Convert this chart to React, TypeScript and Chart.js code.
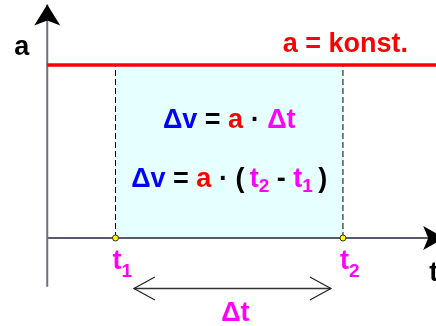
import React, { useEffect, useRef } from "react";
import { Chart, registerables } from "chart.js";

Chart.register(...registerables);

// ---- data (time units on x, acceleration units on y) ----
const timeMarks = [3, 13]; // t1, t2
const timeSubscripts = ["1", "2"];
const accelLevel = [4, 4]; // a = konst.
const accelSpan = [0, 17.1]; // extent of the red line in t
const xAxisSpan = [0, 17.45]; // t-axis from origin to arrow tip
const yAxisSpan = [-1.13, 5.4]; // a-axis from below origin to arrow tip
const deltaSpan = [3.81, 12.47]; // Δt double-arrow extent
const deltaLevel = [-1.168, -1.168];
const xRange = [-2.077, 17.09];
const yRange = [-2.035, 5.503];

const FONT = '"Liberation Sans", Arial, Helvetica, sans-serif';
const BLUE = "#0000ff";
const RED = "#ff0000";
const MAG = "#ff00ff";
const BLACK = "#000000";
const SIZE = 27;
const SUB = 19;

type Run = { t: string; c: string; sub?: boolean };

function drawRuns(
  ctx: CanvasRenderingContext2D,
  runs: Run[],
  x: number,
  baseline: number,
  subDy: number,
  align: "left" | "center"
) {
  const main = `bold ${SIZE}px ${FONT}`;
  const sub = `bold ${SUB}px ${FONT}`;
  let w = 0;
  for (const r of runs) {
    ctx.font = r.sub ? sub : main;
    w += ctx.measureText(r.t).width;
  }
  let cx = align === "center" ? x - w / 2 : x;
  ctx.textBaseline = "alphabetic";
  ctx.textAlign = "left";
  for (const r of runs) {
    ctx.font = r.sub ? sub : main;
    ctx.fillStyle = r.c;
    ctx.fillText(r.t, cx, baseline + (r.sub ? subDy : 0));
    cx += ctx.measureText(r.t).width;
  }
}

const annotationPlugin = {
  id: "annotations",
  afterDatasetsDraw(chart: any) {
    const ctx: CanvasRenderingContext2D = chart.ctx;
    const xs = chart.scales.x;
    const ys = chart.scales.y;
    const px = (v: number) => xs.getPixelForValue(v);
    const py = (v: number) => ys.getPixelForValue(v);
    ctx.save();

    // filled arrowhead on a-axis
    const ax = px(0);
    const aTop = py(yAxisSpan[1]);
    ctx.fillStyle = BLACK;
    ctx.beginPath();
    ctx.moveTo(ax, aTop);
    ctx.lineTo(ax - 13, aTop + 21);
    ctx.lineTo(ax, aTop + 16);
    ctx.lineTo(ax + 13, aTop + 21);
    ctx.closePath();
    ctx.fill();

    // filled arrowhead on t-axis
    const tx = px(xAxisSpan[1]);
    const ty = py(0);
    ctx.beginPath();
    ctx.moveTo(tx, ty);
    ctx.lineTo(tx - 21, ty - 12);
    ctx.lineTo(tx - 16, ty);
    ctx.lineTo(tx - 21, ty + 12);
    ctx.closePath();
    ctx.fill();

    // open arrowheads of Δt double arrow
    const dy = py(deltaLevel[0]);
    const dl = px(deltaSpan[0]);
    const dr = px(deltaSpan[1]);
    ctx.strokeStyle = "#222222";
    ctx.lineWidth = 1.2;
    ctx.beginPath();
    ctx.moveTo(dl + 21, dy - 11.5);
    ctx.lineTo(dl, dy);
    ctx.lineTo(dl + 21, dy + 11.5);
    ctx.moveTo(dr - 21, dy - 11.5);
    ctx.lineTo(dr, dy);
    ctx.lineTo(dr - 21, dy + 11.5);
    ctx.stroke();

    const aY = py(accelLevel[0]);

    // axis labels
    drawRuns(ctx, [{ t: "a", c: BLACK }], ax - 33, aY - 10, 0, "left");
    drawRuns(ctx, [{ t: "t", c: BLACK }], tx - 15, ty + 43, 0, "left");

    // a = konst.
    drawRuns(ctx, [{ t: "a = konst.", c: RED }], px(10.35), aY - 13, 0, "left");

    // formulas centred in the shaded area
    const mid = (px(timeMarks[0]) + px(timeMarks[1])) / 2;
    drawRuns(
      ctx,
      [
        { t: "\u0394v", c: BLUE },
        { t: " = ", c: BLACK },
        { t: "a", c: RED },
        { t: " \u00b7 ", c: BLACK },
        { t: "\u0394t", c: MAG },
      ],
      mid,
      aY + 63,
      0,
      "center"
    );
    drawRuns(
      ctx,
      [
        { t: "\u0394v", c: BLUE },
        { t: " = ", c: BLACK },
        { t: "a", c: RED },
        { t: " \u00b7 ", c: BLACK },
        { t: "(\u2009", c: BLACK },
        { t: "t", c: MAG },
        { t: timeSubscripts[1], c: MAG, sub: true },
        { t: " - ", c: BLACK },
        { t: "t", c: MAG },
        { t: timeSubscripts[0], c: MAG, sub: true },
        { t: "\u2009)", c: BLACK },
      ],
      mid,
      aY + 122,
      5,
      "center"
    );

    // t1, t2 labels
    timeMarks.forEach((tm, i) => {
      drawRuns(
        ctx,
        [
          { t: "t", c: MAG },
          { t: timeSubscripts[i], c: MAG, sub: true },
        ],
        px(tm) - 3,
        ty + 31,
        8,
        "left"
      );
    });

    // Δt label under double arrow
    drawRuns(ctx, [{ t: "\u0394t", c: MAG }], (dl + dr) / 2 + 3, dy + 32, 0, "center");

    ctx.restore();
  },
};

export default function App() {
  const ref = useRef<HTMLCanvasElement | null>(null);

  useEffect(() => {
    document.body.style.margin = "0";
    const canvas = ref.current;
    if (!canvas) return;

    const line = (pts: { x: number; y: number }[], extra: any) => ({
      type: "scatter" as const,
      data: pts,
      showLine: true,
      pointRadius: 0,
      pointHoverRadius: 0,
      ...extra,
    });

    const chart = new Chart(canvas, {
      type: "scatter",
      data: {
        datasets: [
          // shaded area a·Δt
          line(
            [
              { x: timeMarks[0], y: accelLevel[0] },
              { x: timeMarks[1], y: accelLevel[1] },
            ],
            { fill: "origin", backgroundColor: "#e6ffff", borderWidth: 0, borderColor: "rgba(0,0,0,0)", order: 10 }
          ),
          // t-axis
          line(
            [
              { x: xAxisSpan[0], y: 0 },
              { x: xAxisSpan[1], y: 0 },
            ],
            { borderColor: "#22223a", borderWidth: 1.5, order: 6 }
          ),
          // a-axis
          line(
            [
              { x: 0, y: yAxisSpan[0] },
              { x: 0, y: yAxisSpan[1] },
            ],
            { borderColor: "#6e6e80", borderWidth: 2, order: 5 }
          ),
          // dashed t1, t2 verticals
          ...timeMarks.map((tm, i) =>
            line(
              [
                { x: tm, y: 0 },
                { x: tm, y: accelLevel[i] },
              ],
              { borderColor: "#000000", borderWidth: 1, borderDash: [6, 3], order: 4 }
            )
          ),
          // a = konst.
          line(
            [
              { x: accelSpan[0], y: accelLevel[0] },
              { x: accelSpan[1], y: accelLevel[1] },
            ],
            { borderColor: RED, borderWidth: 3.5, order: 3 }
          ),
          // Δt double arrow shaft
          line(
            [
              { x: deltaSpan[0], y: deltaLevel[0] },
              { x: deltaSpan[1], y: deltaLevel[1] },
            ],
            { borderColor: "#333333", borderWidth: 1.5, order: 2 }
          ),
          // t1, t2 points
          {
            type: "scatter" as const,
            data: timeMarks.map((tm) => ({ x: tm, y: 0 })),
            pointRadius: 3,
            pointHoverRadius: 3,
            pointBackgroundColor: "#ffff00",
            pointBorderColor: "#333300",
            pointBorderWidth: 1,
            order: 1,
          },
        ],
      },
      options: {
        animation: false,
        responsive: false,
        devicePixelRatio: 1,
        layout: { padding: 0, autoPadding: false },
        events: [],
        plugins: { legend: { display: false }, tooltip: { enabled: false } },
        scales: {
          x: { type: "linear", min: xRange[0], max: xRange[1], display: false },
          y: { type: "linear", min: yRange[0], max: yRange[1], display: false },
        },
      },
      plugins: [annotationPlugin],
    });

    return () => chart.destroy();
  }, []);

  return (
    <div style={{ width: 436, height: 326, background: "#ffffff" }}>
      <canvas ref={ref} width={436} height={326} style={{ display: "block", width: 436, height: 326 }} />
    </div>
  );
}
